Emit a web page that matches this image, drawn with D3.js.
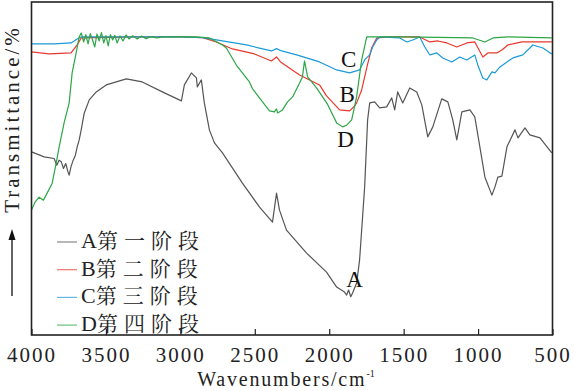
<!DOCTYPE html>
<html>
<head>
<meta charset="utf-8">
<script src="https://cdn.jsdelivr.net/npm/d3@7"></script>
<style>
body { margin: 0; background: #fff; }
</style>
</head>
<body>
<svg id="chart"></svg>
<script>
var width = 574;
var height = 391;
var latinFont = "'Liberation Serif'";
var cjkFont = "'Noto Serif CJK SC'";

// wavenumber (cm-1) / transmittance (%)
var waveA = [4000,3915,3848,3830,3815,3800,3785,3770,3755,3747,3735,3720,3705,3693,3680,3666,3646,3612,3565,3498,3363,3256,3121,2993,2973,2926,2892,2886,2859,2839,2805,2771,2717,2583,2468,2381,2354,2334,2287,2152,2018,1950,1900,1883,1870,1855,1843,1816,1796,1762,1742,1728,1695,1661,1614,1580,1560,1540,1506,1459,1412,1378,1338,1304,1244,1203,1170,1143,1109,1055,1022,988,954,907,887,867,840,806,752,732,685,652,584,505];
var transA = [55.0,53.5,53.0,51.0,52.5,52.0,50.0,51.5,49.0,48.0,50.5,52.5,54.0,56.5,58.5,61.6,66.6,70.6,73.0,75.1,76.9,76.0,73.0,70.3,75.1,78.7,77.2,74.5,76.6,69.7,61.6,57.7,54.7,45.6,38.4,33.9,42.6,37.5,31.5,24.6,18.9,14.4,13.0,12.0,13.5,11.5,12.6,15.6,22.5,44.4,64.6,69.7,70.0,68.2,68.5,71.2,67.6,73.0,69.7,74.2,73.0,69.1,59.5,62.5,70.9,70.0,64.6,58.6,67.0,67.6,65.5,56.5,47.4,42.0,44.4,47.4,47.7,56.5,61.6,59.2,62.2,60.1,59.2,54.7];

var waveB = [4000,3882,3734,3693,3666,3300,3000,2850,2758,2650,2502,2388,2354,2327,2199,2065,2018,1930,1863,1829,1816,1782,1748,1715,1681,1600,1392,1324,1271,1210,1143,1076,1022,968,934,874,840,800,766,706,505];
var transB = [85.0,84.4,84.7,87.1,89.2,89.5,89.5,89.3,88.0,85.9,84.4,82.3,83.5,82.0,78.1,75.1,71.8,67.6,67.3,68.8,69.7,73.6,80.2,86.2,89.2,89.5,89.5,88.0,88.3,87.7,86.5,87.7,88.0,83.5,84.7,84.7,85.6,87.1,87.4,88.0,88.0];

var waveC = [4000,3848,3734,3693,3666,3300,3000,2850,2758,2556,2388,2354,2320,2219,2065,1950,1863,1796,1762,1728,1708,1681,1660,1526,1479,1439,1392,1358,1324,1277,1237,1176,1123,1076,1022,1002,968,941,907,887,853,806,766,699,632,564,505];
var transC = [87.4,87.4,87.7,88.9,89.5,89.5,89.5,89.3,88.6,87.1,85.3,86.0,85.3,84.1,82.0,79.6,78.7,79.6,82.6,84.1,86.5,88.6,89.5,89.2,88.0,88.6,89.5,86.5,84.1,84.7,83.2,82.0,83.5,82.6,84.1,81.1,77.2,76.6,79.0,78.7,80.5,82.0,83.2,84.1,87.1,86.2,84.4];

var waveD = [4000,3975,3949,3920,3895,3861,3834,3814,3781,3747,3727,3700,3680,3666,3650,3635,3620,3605,3590,3575,3560,3545,3530,3515,3500,3485,3470,3455,3440,3425,3405,3385,3365,3345,3320,3290,3260,3230,3200,3160,3121,2900,2805,2717,2691,2623,2536,2516,2448,2401,2368,2354,2347,2314,2280,2246,2199,2180,2166,2145,2085,2014,1950,1910,1883,1849,1816,1782,1748,1500,1035,954,900,800,505];
var transD = [37.5,40.0,41.4,40.5,42.6,45.6,51.7,56.5,63.7,69.7,78.7,84.7,89.5,90.7,88.0,90.2,87.4,90.5,88.6,86.5,90.4,88.3,90.8,87.7,89.9,86.8,90.2,88.6,90.0,87.7,89.8,88.3,90.1,88.9,89.9,88.9,89.8,89.0,89.6,89.2,89.5,89.5,89.2,87.1,86.2,81.0,76.0,74.0,70.0,67.3,67.0,67.9,66.7,67.6,70.0,71.5,75.7,77.5,82.3,77.5,74.2,69.5,63.7,62.5,63.0,64.6,71.5,82.6,89.5,89.5,89.2,88.0,89.2,89.5,89.2];

var seriesKeys = ["A","B","C","D"];
var seriesStages = ["第一阶段","第二阶段","第三阶段","第四阶段"];
var seriesColors = ["#555555","#e8392e","#1c9ad8","#2ca646"];
var xTicks = [4000,3500,3000,2500,2000,1500,1000,500];

var margins = { left: 31.5, right: 21.5, top: 2, bottom: 56 };

var xscale = d3.scaleLinear()
                .domain([4000,500])
                .range([margins.left, width - margins.right]);
var yscale = d3.scaleLinear()
                .domain([0,100])
                .range([height - margins.bottom, margins.top]);

var svg = d3.select("#chart")
            .attr("width", width)
            .attr("height", height);

var allSeries = [[waveA,transA],[waveB,transB],[waveC,transC],[waveD,transD]];
var line = d3.line()
             .x(function(d){ return xscale(d[0]); })
             .y(function(d){ return yscale(d[1]); });

allSeries.forEach(function(s, i){
    var pts = d3.zip(s[0], s[1]);
    svg.append("path")
       .datum(pts)
       .attr("d", line)
       .attr("fill", "none")
       .attr("stroke", seriesColors[i])
       .attr("stroke-width", 1.2)
       .attr("stroke-linejoin", "round");
});

// frame
svg.append("rect")
   .attr("x", xscale(4000))
   .attr("y", yscale(100))
   .attr("width", xscale(500) - xscale(4000))
   .attr("height", yscale(0) - yscale(100))
   .attr("fill", "none")
   .attr("stroke", "#222")
   .attr("stroke-width", 1.6);

// bottom axis, ticks pointing inward
var xaxis = d3.axisBottom(xscale)
              .tickValues(xTicks)
              .tickFormat(d3.format("d"))
              .tickSizeInner(-6)
              .tickSizeOuter(0)
              .tickPadding(12);
var gx = svg.append("g")
            .attr("transform", "translate(0," + yscale(0) + ")")
            .call(xaxis);
gx.select(".domain").remove();
gx.selectAll("line").attr("stroke", "#222").attr("stroke-width", 1.2);
gx.selectAll("text")
  .attr("fill", "#222")
  .style("font-family", latinFont)
  .style("font-size", "21px")
  .style("letter-spacing", "2px");

// axis titles
var xt = svg.append("text")
   .attr("x", 286)
   .attr("y", 386)
   .attr("text-anchor", "middle")
   .attr("fill", "#222")
   .style("font-family", latinFont)
   .style("font-size", "20px")
   .style("letter-spacing", "1.8px")
   .text("Wavenumbers/cm");
xt.append("tspan")
  .attr("dy", -9)
  .style("font-size", "10px")
  .style("letter-spacing", "0px")
  .text("-1");

svg.append("text")
   .attr("transform", "translate(19,119) rotate(-90)")
   .attr("text-anchor", "middle")
   .attr("fill", "#222")
   .style("font-family", latinFont)
   .style("font-size", "21px")
   .style("letter-spacing", "3px")
   .text("Transmittance/%");

// arrow under the y title
svg.append("line")
   .attr("x1", 12).attr("y1", 296)
   .attr("x2", 12).attr("y2", 238)
   .attr("stroke", "#111").attr("stroke-width", 1.3);
svg.append("path")
   .attr("d", "M12,229 L8.5,240 L15.5,240 Z")
   .attr("fill", "#111");

// curve labels
var labelPos = [[1830,14.5],[1880,70],[1870,80.5],[1890,56.5]];
seriesKeys.forEach(function(t, i){
    svg.append("text")
       .attr("x", xscale(labelPos[i][0]))
       .attr("y", yscale(labelPos[i][1]))
       .attr("text-anchor", "middle")
       .attr("fill", "#111")
       .style("font-family", latinFont)
       .style("font-size", "23px")
       .text(t);
});

// legend
var legend = svg.append("g").attr("transform", "translate(57,242)");
seriesKeys.forEach(function(key, i){
    var row = legend.append("g").attr("transform", "translate(0," + (i*27.7) + ")");
    row.append("line")
       .attr("x1", 0).attr("x2", 20)
       .attr("y1", 0).attr("y2", 0)
       .attr("stroke", seriesColors[i])
       .attr("stroke-opacity", 0.7)
       .attr("stroke-width", 1.2);
    var t = row.append("text")
       .attr("x", 24)
       .attr("y", 6)
       .attr("fill", "#222")
       .style("font-size", "21px");
    t.append("tspan")
     .style("font-family", latinFont)
     .style("font-size", "22px")
     .text(key);
    t.append("tspan")
     .style("font-family", cjkFont)
     .style("letter-spacing", "6px")
     .text(seriesStages[i]);
});
</script>
</body>
</html>
